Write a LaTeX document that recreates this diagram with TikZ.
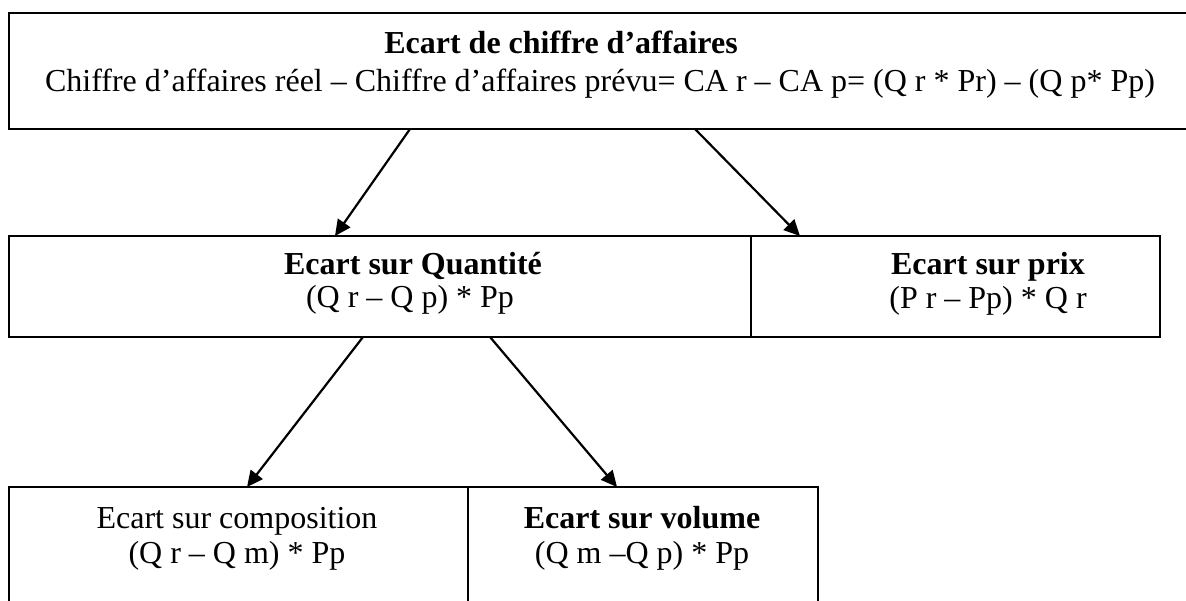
\documentclass[tikz,border=0pt]{standalone}
\usepackage{fontspec}
\setmainfont{Liberation Serif}
\usetikzlibrary{arrows.meta}
\begin{document}
\begin{tikzpicture}[x=1pt,y=-1pt,
  box/.style={draw=black,line width=2.4pt,rectangle,inner sep=0pt,outer sep=0pt,anchor=north west},
  txt/.style={anchor=base,inner sep=0pt,font=\fontsize{32}{37}\selectfont},
  btxt/.style={txt,font=\fontsize{32}{37}\selectfont\bfseries},
  arr/.style={line width=2.2pt,-{Triangle[length=16pt,width=15pt]}}]
\useasboundingbox (0,0) rectangle (1186,601);
% boxes
\node[box,minimum width=1220pt,minimum height=116pt] (top) at (9,13) {};
\node[box,minimum width=742pt,minimum height=101pt] (midL) at (9,236) {};
\node[box,minimum width=409pt,minimum height=101pt] (midR) at (751,236) {};
\node[box,minimum width=459pt,minimum height=140pt] (botL) at (9,487) {};
\node[box,minimum width=350pt,minimum height=140pt] (botR) at (468,487) {};
% texts
\node[btxt] (t1) at (561,54) {Ecart de chiffre d’affaires};
\node[txt] (t2) at (600,92) {Chiffre d’affaires réel – Chiffre d’affaires prévu= CA r – CA p= (Q r * Pr) – (Q p* Pp)};
\node[btxt] (q1) at (413,275) {Ecart sur Quantité};
\node[txt] (q2) at (410,308) {(Q r – Q p) * Pp};
\node[btxt] (p1) at (988,275) {Ecart sur prix};
\node[txt] (p2) at (988,309) {(P r – Pp) * Q r};
\node[txt] (c1) at (237,528) {Ecart sur composition};
\node[txt] (c2) at (237,563) {(Q r – Q m) * Pp};
\node[btxt] (v1) at (642,528) {Ecart sur volume};
\node[txt] (v2) at (642,563) {(Q m –Q p) * Pp};
% arrows
\draw[arr] ([xshift=401pt]top.south west) -- ([xshift=326pt]midL.north west);
\draw[arr] ([xshift=686pt]top.south west) -- ([xshift=49pt]midR.north west);
\draw[arr] ([xshift=354pt]midL.south west) -- ([xshift=238pt]botL.north west);
\draw[arr] ([xshift=481pt]midL.south west) -- ([xshift=149pt]botR.north west);
\end{tikzpicture}
\end{document}
